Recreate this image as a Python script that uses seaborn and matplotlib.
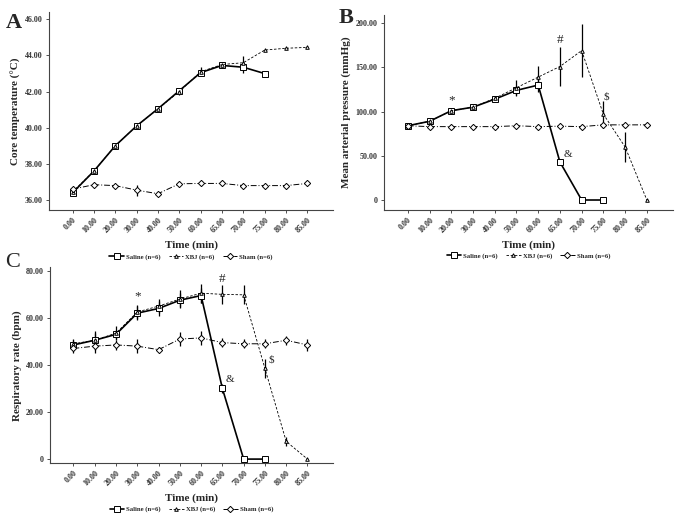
import pandas as pd
import numpy as np
import matplotlib.pyplot as plt
import seaborn as sns

# time points (min) shared by all three panels
times = ['0.00', '10.00', '20.00', '30.00', '40.00', '50.00',
         '60.00', '65.00', '70.00', '75.00', '80.00', '85.00']
groups = ['Saline (n=6)', 'XBJ (n=6)', 'Sham (n=6)']

# A: core temperature (C)
temp_saline = [36.4, 37.6, 39.0, 40.1, 41.05, 42.05, 43.05, 43.45, 43.35, 43.0]
temp_xbj = [36.45, 37.6, 39.0, 40.1, 41.05, 42.0, 43.1, 43.5, 43.6, 44.3, 44.4, 44.45]
temp_sham = [36.6, 36.85, 36.8, 36.55, 36.35, 36.9, 36.92, 36.92, 36.8, 36.8, 36.8, 36.92]
temp_saline_err = [0.15, 0.1, 0.1, 0.1, 0.1, 0.1, 0.2, 0.15, 0.3, 0.05]
temp_xbj_err = [0.15, 0.1, 0.1, 0.1, 0.1, 0.2, 0.25, 0.15, 0.35, 0.05, 0.05, 0.05]
temp_sham_err = [0.1, 0.05, 0.05, 0.3, 0.05, 0.05, 0.05, 0.05, 0.05, 0.05, 0.05, 0.05]

# B: mean arterial pressure (mmHg)
map_saline = [84, 89, 101, 105, 114, 124, 130, 43, 0, 0]
map_xbj = [84, 89, 101, 105, 115, 127, 139, 151, 169, 97, 60, 0]
map_sham = [84, 83, 83, 83, 83, 84, 83, 83.5, 83, 85, 85, 85]
map_saline_err = [1, 1, 2, 2, 2, 5, 8, 3, 0, 0]
map_xbj_err = [1, 1, 2, 2, 2, 9, 13, 22, 30, 15, 17, 0]
map_sham_err = [1, 1, 1, 1, 1, 1, 1, 1, 1, 1, 1, 1]

# C: respiratory rate (bpm)
rr_saline = [48.5, 50.5, 53, 62, 64, 67.5, 69.5, 30, 0, 0]
rr_xbj = [49, 50.5, 53.5, 62.5, 65, 68, 70.5, 70, 69.8, 38.5, 7.5, 0]
rr_sham = [47, 48, 48.5, 48, 46.5, 51, 51.5, 49.5, 49, 49, 50.5, 48.5]
rr_saline_err = [2, 3, 2, 3, 3, 3, 3, 2, 0, 0]
rr_xbj_err = [2, 4, 3, 3, 3, 4, 4, 4, 4, 4, 2, 0]
rr_sham_err = [2, 3, 2, 3, 1, 3, 3, 2, 2, 2, 2, 2.5]

sns.set_style("ticks")
plt.rcParams['font.family'] = ['Liberation Serif', 'DejaVu Serif']
plt.rcParams['font.weight'] = 'bold'
plt.rcParams['axes.labelweight'] = 'bold'

markers = {groups[0]: 's', groups[1]: '^', groups[2]: 'D'}
dashes = {groups[0]: '', groups[1]: (3, 2), groups[2]: (6, 2, 1, 2)}
widths = {groups[0]: 1.2, groups[1]: 0.6, groups[2]: 0.7}
msizes = {groups[0]: 4, groups[1]: 2.6, groups[2]: 3.2}


def make_df(saline, xbj, sham, e1, e2, e3):
    rows = []
    for g, vals, errs in zip(groups, [saline, xbj, sham], [e1, e2, e3]):
        for i, (v, e) in enumerate(zip(vals, errs)):
            rows.append({'pos': i, 'value': v, 'err': e, 'group': g})
    return pd.DataFrame(rows)


def draw_panel(ax, df, ylabel, yticks, ylim):
    for g in groups:
        d = df[df['group'] == g]
        ax.errorbar(d['pos'], d['value'], yerr=d['err'], fmt='none',
                    ecolor='black', elinewidth=0.9, capsize=0, zorder=2)
        sns.lineplot(data=d, x='pos', y='value', ax=ax, color='black',
                     marker=markers[g], markersize=msizes[g],
                     markerfacecolor='white', markeredgecolor='black',
                     markeredgewidth=0.7, dashes=dashes[g] if dashes[g] else (None, None),
                     linewidth=widths[g], label=g, errorbar=None, zorder=3)
    ax.set_xticks(range(len(times)))
    ax.set_xticklabels(times, rotation=45, ha='right', rotation_mode='anchor', fontsize=5.8)
    ax.set_yticks(yticks)
    ax.set_yticklabels(['0' if t == 0 else '%.2f' % t for t in yticks], fontsize=5.8)
    ax.set_xlim(-1.1, 12.2)
    ax.set_ylim(*ylim)
    ax.set_xlabel('Time (min)', fontsize=8, labelpad=4)
    ax.set_ylabel(ylabel, fontsize=8, labelpad=3)
    ax.tick_params(length=2.5, width=0.6, pad=2, colors='#333333')
    for s in ['left', 'bottom']:
        ax.spines[s].set_linewidth(0.8)
        ax.spines[s].set_color('#444444')
    sns.despine(ax=ax)
    ax.legend(loc='upper center', bbox_to_anchor=(0.5, -0.19), ncol=3, frameon=False,
              fontsize=4.8, handlelength=2.2, columnspacing=1.2, handletextpad=0.3)


fig = plt.figure(figsize=(6.77, 5.18), dpi=100)
ax_a = fig.add_axes([0.0724, 0.5946, 0.4195, 0.382])
ax_b = fig.add_axes([0.567, 0.5946, 0.427, 0.376])
ax_c = fig.add_axes([0.0739, 0.106, 0.418, 0.378])

draw_panel(ax_a, make_df(temp_saline, temp_xbj, temp_sham, temp_saline_err, temp_xbj_err, temp_sham_err),
           'Core temperature (°C)', [36, 38, 40, 42, 44, 46], (35.45, 46.4))
draw_panel(ax_b, make_df(map_saline, map_xbj, map_sham, map_saline_err, map_xbj_err, map_sham_err),
           'Mean arterial pressure (mmHg)', [0, 50, 100, 150, 200], (-11.3, 209))
draw_panel(ax_c, make_df(rr_saline, rr_xbj, rr_sham, rr_saline_err, rr_xbj_err, rr_sham_err),
           'Respiratory rate (bpm)', [0, 20, 40, 60, 80], (-1.7, 81.5))

# significance marks
sig_kw = dict(ha='center', va='center', fontweight='normal', fontsize=9.5)
ax_b.text(2, 113, '*', **sig_kw)
ax_b.text(7, 181, '#', **sig_kw)
ax_b.text(9.15, 117, '$', fontweight='normal', fontsize=8, ha='center', va='center')
ax_b.text(7.35, 52, '&', fontweight='normal', fontsize=8, ha='center', va='center')
ax_c.text(3, 69, '*', **sig_kw)
ax_c.text(7, 76.5, '#', **sig_kw)
ax_c.text(7.35, 34, '&', fontweight='normal', fontsize=8, ha='center', va='center')
ax_c.text(9.3, 42, '$', fontweight='normal', fontsize=8, ha='center', va='center')

fig.text(0.008, 0.975, 'A', fontsize=16, fontweight='bold', va='top')
fig.text(0.500, 0.985, 'B', fontsize=16, fontweight='bold', va='top')
fig.text(0.008, 0.512, 'C', fontsize=16, fontweight='normal', va='top')

fig.savefig('out.png', dpi=100)
